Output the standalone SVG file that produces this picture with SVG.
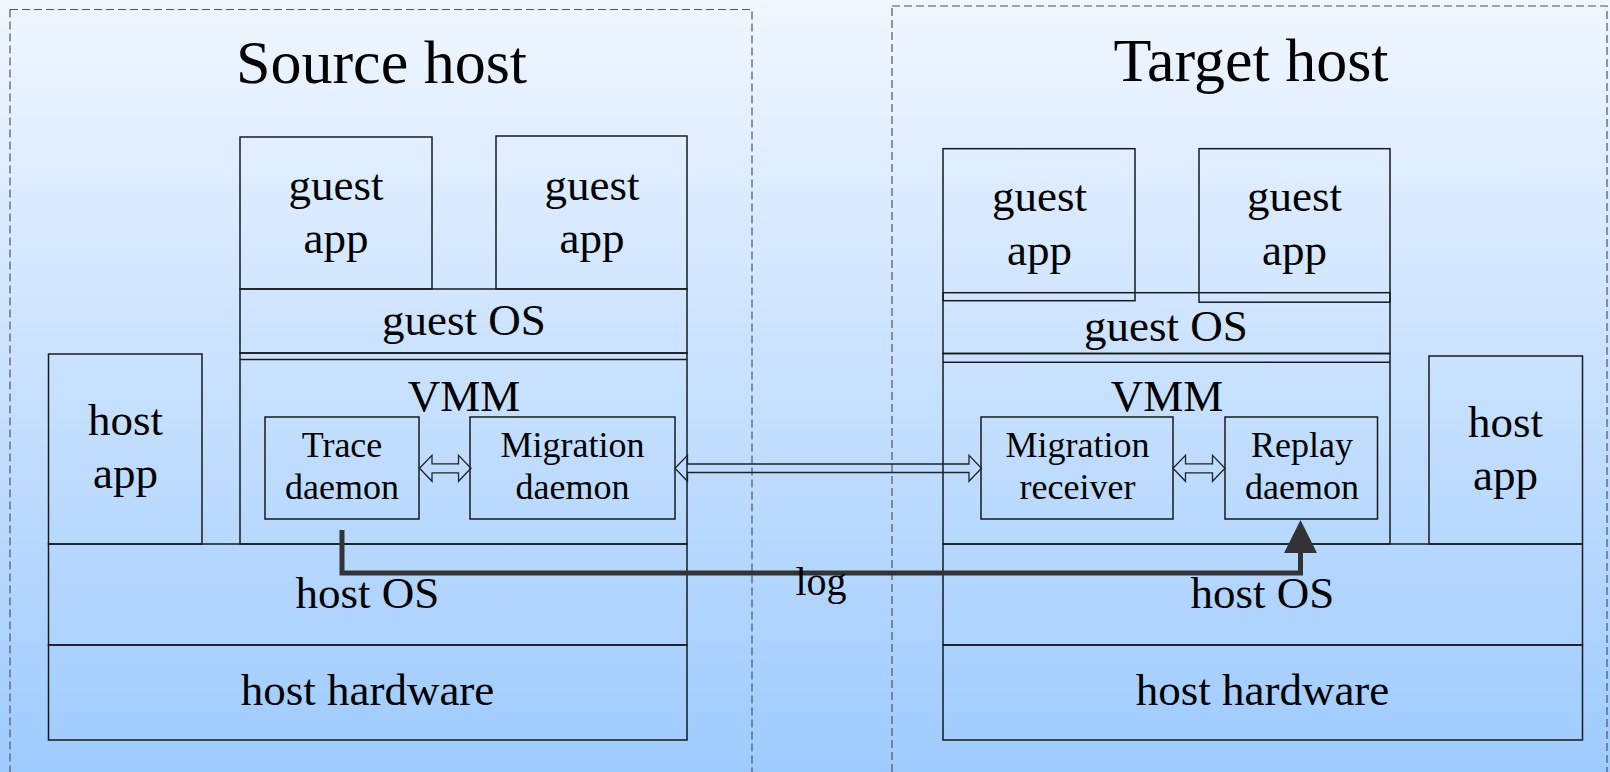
<svg xmlns="http://www.w3.org/2000/svg" width="1610" height="772" viewBox="0 0 1610 772">
<defs>
<linearGradient id="bg" x1="0" y1="0" x2="0" y2="1">
<stop offset="0" stop-color="#F0F6FF"/>
<stop offset="1" stop-color="#9ECBFF"/>
</linearGradient>
</defs>
<style>
text{font-family:"Liberation Serif","Times New Roman",serif;fill:#000;text-anchor:middle}
.t{font-size:62px}
.l{font-size:45px}
.s{font-size:36px}
.g{font-size:40px}
.box{fill:none;stroke:#1a1a1a;stroke-width:1.5}
.host{fill:none;stroke:#555;stroke-width:1.2;stroke-dasharray:8 4}
.ha{fill:none;stroke:#222;stroke-width:1.3}
.log{fill:none;stroke:#333;stroke-width:5}
</style>
<rect x="0" y="0" width="1610" height="772" fill="url(#bg)"/>

<g id="source-host">
<rect class="host" x="10" y="9.5" width="742" height="780"/>
<text class="t" x="381.5" y="83">Source host</text>
</g>
<g id="target-host">
<rect class="host" x="892" y="6" width="715" height="790"/>
<text class="t" x="1251" y="81">Target host</text>
</g>

<g id="src-guest-app-1">
<rect class="box" x="240" y="137" width="192" height="152"/>
<text class="l" x="336" y="200">guest</text>
<text class="l" x="336" y="253">app</text>
</g>
<g id="src-guest-app-2">
<rect class="box" x="496" y="136" width="191" height="153"/>
<text class="l" x="592" y="200">guest</text>
<text class="l" x="592" y="253">app</text>
</g>
<g id="src-guest-os">
<rect class="box" x="240" y="289" width="447" height="64"/>
<text class="l" x="464" y="335">guest OS</text>
</g>
<g id="src-vmm">
<rect class="box" x="240" y="353" width="447" height="191"/>
<line class="box" x1="240" y1="359.5" x2="687" y2="359.5"/>
<text class="l" x="464" y="410.7">VMM</text>
</g>
<g id="src-host-app">
<rect class="box" x="48.5" y="354" width="153.5" height="190"/>
<text class="l" x="125.5" y="435">host</text>
<text class="l" x="125.5" y="488">app</text>
</g>
<g id="src-trace-daemon">
<rect class="box" x="265" y="417" width="154" height="102"/>
<text class="s" x="342" y="456.7">Trace</text>
<text class="s" x="342" y="499">daemon</text>
</g>
<g id="src-migration-daemon">
<rect class="box" x="470" y="417" width="205" height="102"/>
<text class="s" x="572.5" y="456.7">Migration</text>
<text class="s" x="572.5" y="499">daemon</text>
</g>
<g id="src-host-os">
<rect class="box" x="48.5" y="544" width="638.5" height="101"/>
<text class="l" x="367.5" y="608">host OS</text>
</g>
<g id="src-host-hardware">
<rect class="box" x="48.5" y="645" width="638.5" height="95"/>
<text class="l" x="367.5" y="705">host hardware</text>
</g>

<g id="tgt-guest-app-1">
<rect class="box" x="943" y="148.7" width="192" height="152"/>
<text class="l" x="1039.5" y="211">guest</text>
<text class="l" x="1039.5" y="265">app</text>
</g>
<g id="tgt-guest-app-2">
<rect class="box" x="1199" y="148.7" width="191" height="153.5"/>
<text class="l" x="1294.5" y="211">guest</text>
<text class="l" x="1294.5" y="265">app</text>
</g>
<g id="tgt-guest-os">
<rect class="box" x="943" y="292.7" width="447" height="60.8"/>
<text class="l" x="1166" y="340.7">guest OS</text>
</g>
<g id="tgt-vmm">
<rect class="box" x="943" y="353.5" width="447" height="190.5"/>
<line class="box" x1="943" y1="362.3" x2="1390" y2="362.3"/>
<text class="l" x="1167" y="410.7">VMM</text>
</g>
<g id="tgt-host-app">
<rect class="box" x="1429" y="356" width="153.5" height="188"/>
<text class="l" x="1505.5" y="436.7">host</text>
<text class="l" x="1505.5" y="490">app</text>
</g>
<g id="tgt-migration-receiver">
<rect class="box" x="981" y="417" width="192" height="102"/>
<text class="s" x="1077.5" y="456.7">Migration</text>
<text class="s" x="1077.5" y="499">receiver</text>
</g>
<g id="tgt-replay-daemon">
<rect class="box" x="1225" y="417" width="152.5" height="102"/>
<text class="s" x="1302" y="456.7">Replay</text>
<text class="s" x="1302" y="499">daemon</text>
</g>
<g id="tgt-host-os">
<rect class="box" x="943" y="544" width="639.5" height="101"/>
<text class="l" x="1262.5" y="608">host OS</text>
</g>
<g id="tgt-host-hardware">
<rect class="box" x="943" y="645" width="639.5" height="95"/>
<text class="l" x="1262.5" y="705">host hardware</text>
</g>

<g id="connectors">
<path class="ha" d="M419.5,468.3 L432,455.3 L432,463.8 L458.5,463.8 L458.5,455.3 L471,468.3 L458.5,481.3 L458.5,472.8 L432,472.8 L432,481.3 Z"/>
<path class="ha" d="M675,468.3 L687.5,455.3 L687.5,464 L969,464 L969,455.3 L981.5,468.3 L969,481.3 L969,472.5 L687.5,472.5 L687.5,481.3 Z"/>
<path class="ha" d="M1173,468.3 L1185.5,455.3 L1185.5,463.8 L1212.5,463.8 L1212.5,455.3 L1225,468.3 L1212.5,481.3 L1212.5,472.8 L1185.5,472.8 L1185.5,481.3 Z"/>
<path class="log" d="M342,530 V573 H1300.5 V552"/>
<polygon points="1300.5,520 1284,553 1317,553" fill="#333"/>
<text class="g" x="821" y="595">log</text>
</g>
</svg>
